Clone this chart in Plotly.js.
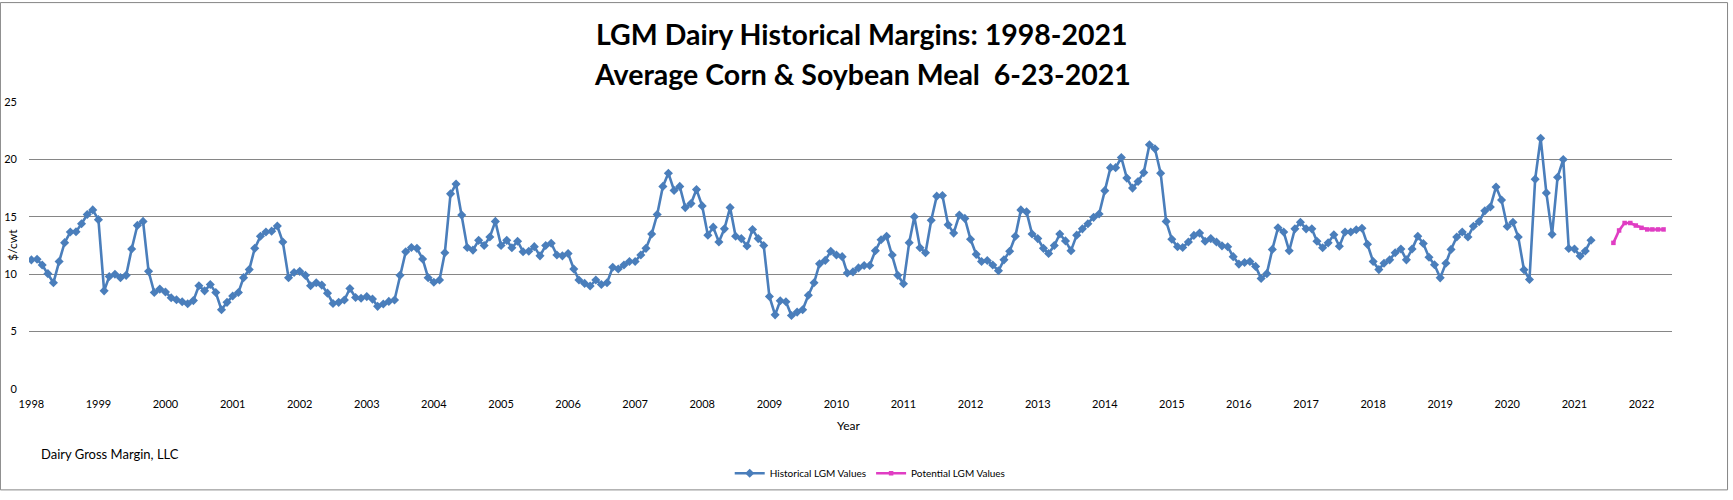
<!DOCTYPE html>
<html>
<head>
<meta charset="utf-8">
<script src="https://cdn.plot.ly/plotly-3.0.1.min.js"></script>
<style>
  html, body { margin: 0; padding: 0; background: #fff; }
  #chart { width: 1733px; height: 500px; }
</style>
</head>
<body>
<div id="chart"></div>
<script>
// monthly LGM margins, Jan..Dec, one row per year
const histYears = [1998, 1999, 2000, 2001, 2002, 2003, 2004, 2005, 2006, 2007, 2008, 2009,
                   2010, 2011, 2012, 2013, 2014, 2015, 2016, 2017, 2018, 2019, 2020, 2021];
const histValues = [
    [11.25, 11.3, 10.8, 10.05, 9.25, 11.1, 12.75, 13.67, 13.7, 14.4, 15.2, 15.6],
    [14.75, 8.55, 9.8, 10.0, 9.7, 9.9, 12.2, 14.25, 14.6, 10.25, 8.4, 8.7],
    [8.45, 7.95, 7.77, 7.6, 7.43, 7.7, 9.0, 8.55, 9.1, 8.4, 6.9, 7.55],
    [8.1, 8.4, 9.7, 10.4, 12.25, 13.3, 13.67, 13.75, 14.2, 12.8, 9.7, 10.15],
    [10.25, 9.9, 9.0, 9.25, 9.05, 8.35, 7.45, 7.55, 7.75, 8.75, 7.97, 7.9],
    [8.05, 7.83, 7.2, 7.4, 7.63, 7.75, 9.9, 11.95, 12.33, 12.25, 11.33, 9.7],
    [9.3, 9.5, 11.87, 17.0, 17.85, 15.15, 12.33, 12.1, 12.95, 12.5, 13.24, 14.6],
    [12.5, 12.95, 12.3, 12.87, 11.96, 12.0, 12.4, 11.6, 12.5, 12.7, 11.67, 11.6],
    [11.8, 10.45, 9.5, 9.2, 8.97, 9.5, 9.1, 9.25, 10.6, 10.45, 10.8, 11.1],
    [11.1, 11.67, 12.25, 13.5, 15.2, 17.65, 18.8, 17.3, 17.65, 15.8, 16.15, 17.37],
    [15.95, 13.4, 14.1, 12.8, 13.95, 15.8, 13.3, 13.1, 12.45, 13.9, 13.1, 12.5],
    [8.06, 6.46, 7.69, 7.6, 6.4, 6.7, 6.9, 8.17, 9.25, 10.9, 11.2, 12.0],
    [11.67, 11.53, 10.1, 10.2, 10.55, 10.76, 10.76, 12.05, 13.0, 13.3, 11.67, 9.9],
    [9.17, 12.75, 15.0, 12.3, 11.87, 14.7, 16.8, 16.86, 14.3, 13.58, 15.15, 14.86],
    [13.04, 11.73, 11.1, 11.19, 10.8, 10.3, 11.25, 12.0, 13.3, 15.6, 15.43, 13.5],
    [13.1, 12.25, 11.8, 12.5, 13.5, 12.9, 12.05, 13.4, 13.95, 14.4, 14.95, 15.24],
    [17.28, 19.28, 19.28, 20.16, 18.37, 17.5, 18.08, 18.85, 21.27, 20.93, 18.8, 14.6],
    [13.04, 12.39, 12.33, 12.8, 13.38, 13.58, 12.87, 13.1, 12.8, 12.47, 12.39, 11.53],
    [10.88, 11.02, 11.1, 10.68, 9.62, 10.05, 12.16, 14.04, 13.67, 12.04, 13.95, 14.52],
    [13.95, 13.95, 12.87, 12.3, 12.73, 13.44, 12.44, 13.67, 13.67, 13.87, 14.0, 12.6],
    [11.1, 10.4, 10.96, 11.25, 11.87, 12.19, 11.25, 12.19, 13.3, 12.67, 11.47, 10.82],
    [9.68, 10.96, 12.16, 13.24, 13.67, 13.24, 14.18, 14.58, 15.52, 15.86, 17.6, 16.46],
    [14.15, 14.52, 13.24, 10.39, 9.54, 18.28, 21.84, 17.08, 13.47, 18.45, 19.99, 12.24],
    [12.19, 11.59, 12.02, 12.96]
];

const potentialMonths = ['2021-08', '2021-09', '2021-10', '2021-11', '2021-12',
                         '2022-01', '2022-02', '2022-03', '2022-04', '2022-05'];
const potentialValues = [12.73, 13.81, 14.46, 14.46, 14.24, 14.04, 13.9, 13.9, 13.9, 13.9];

const tickYears = ['1998', '1999', '2000', '2001', '2002', '2003', '2004', '2005', '2006',
                   '2007', '2008', '2009', '2010', '2011', '2012', '2013', '2014', '2015',
                   '2016', '2017', '2018', '2019', '2020', '2021', '2022'];

function pad(n) { return n < 10 ? '0' + n : '' + n; }

let histX = [];
let histY = [];
histValues.forEach((row, i) => {
    row.forEach((v, m) => {
        histX.push(histYears[i] + '-' + pad(m + 1) + '-01');
        histY.push(v);
    });
});

const gray = '#868686';
const font = 'Lato, "Open Sans", sans-serif';

const traces = [
    {
        x: histX,
        y: histY,
        name: 'Historical LGM Values',
        type: 'scatter',
        mode: 'lines+markers',
        line: { color: '#4A7EBB', width: 2.6 },
        marker: { symbol: 'diamond', size: 7, color: '#4A7EBB' }
    },
    {
        x: potentialMonths.map(m => m + '-01'),
        y: potentialValues,
        name: 'Potential LGM Values',
        type: 'scatter',
        mode: 'lines+markers',
        line: { color: '#E03DC3', width: 2.6 },
        marker: { symbol: 'square', size: 4.5, color: '#E03DC3' }
    }
];

const layout = {
    width: 1733,
    height: 500,
    margin: { l: 29, r: 61, t: 102, b: 105 },
    paper_bgcolor: '#fff',
    plot_bgcolor: '#fff',
    font: { family: font, color: '#000', size: 11 },
    showlegend: true,
    xaxis: {
        type: 'date',
        range: ['1997-12-19', '2022-06-16'],
        tickvals: tickYears.map(y => y + '-01-01'),
        ticktext: tickYears,
        showgrid: false,
        zeroline: false,
        showline: false,
        ticks: '',
        ticklabelstandoff: 7,
        tickfont: { size: 11, family: font },
        automargin: false
    },
    yaxis: {
        range: [0, 25],
        dtick: 5,
        showgrid: true,
        gridcolor: gray,
        gridwidth: 1,
        zeroline: false,
        showline: false,
        ticks: '',
        ticklabelstandoff: 11,
        tickfont: { size: 11, family: font },
        automargin: false
    },
    legend: {
        orientation: 'h',
        x: 0.512,
        xanchor: 'center',
        y: -0.2935,
        yanchor: 'middle',
        itemwidth: 30,
        bgcolor: 'rgba(0,0,0,0)',
        font: { size: 10, family: font }
    },
    annotations: [
        {
            text: '<b>LGM Dairy Historical Margins: 1998-2021</b>',
            xref: 'paper', yref: 'paper', x: 0.507, y: 1.2355,
            xanchor: 'center', yanchor: 'middle', showarrow: false,
            font: { size: 28.5, family: font }
        },
        {
            text: '<b>Average Corn &amp; Soybean Meal\u00a0 6-23-2021</b>',
            xref: 'paper', yref: 'paper', x: 0.507, y: 1.099,
            xanchor: 'center', yanchor: 'middle', showarrow: false,
            font: { size: 28.5, family: font }
        },
        {
            text: '$/cwt',
            xref: 'paper', yref: 'paper', x: -0.0105, y: 0.5017,
            xanchor: 'center', yanchor: 'middle', textangle: -90, showarrow: false,
            font: { size: 12, family: font }
        },
        {
            text: 'Year',
            xref: 'paper', yref: 'paper', x: 0.499, y: -0.1287,
            xanchor: 'center', yanchor: 'middle', showarrow: false,
            font: { size: 12, family: font }
        },
        {
            text: 'Dairy Gross Margin, LLC',
            xref: 'paper', yref: 'paper', x: 0.0059, y: -0.2276,
            xanchor: 'left', yanchor: 'middle', showarrow: false,
            font: { size: 13, family: font }
        }
    ],
    shapes: [
        // outer chart frame
        {
            type: 'rect', xref: 'paper', yref: 'paper', layer: 'below',
            x0: -0.0174, x1: 1.0338, y0: -0.3515, y1: 1.3464,
            line: { color: gray, width: 1 }
        }
    ]
};

Plotly.newPlot('chart', traces, layout, { displayModeBar: false, staticPlot: true });
</script>
</body>
</html>
